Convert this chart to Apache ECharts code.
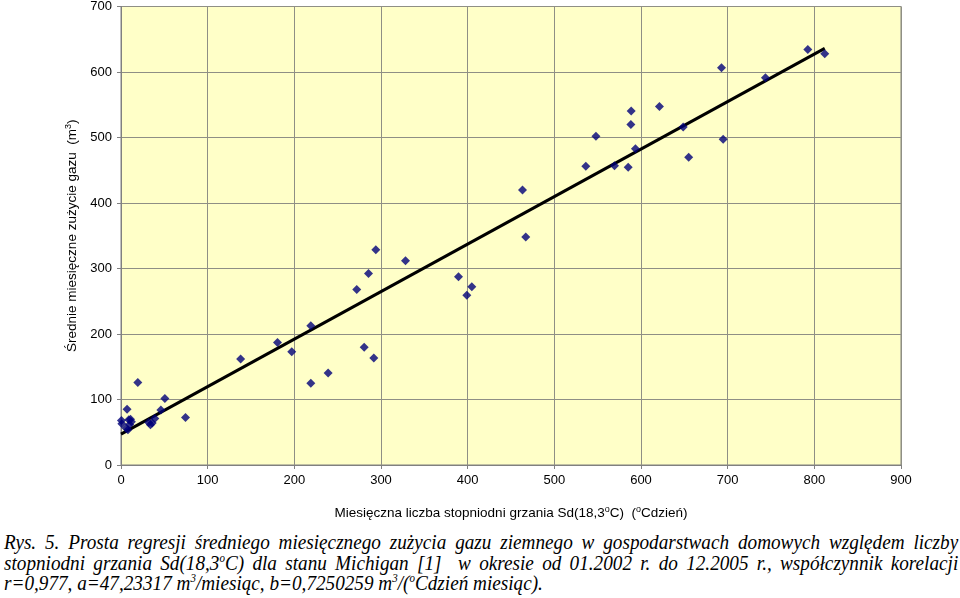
<!DOCTYPE html>
<html><head><meta charset="utf-8">
<script src="https://cdn.jsdelivr.net/npm/echarts@6/dist/echarts.min.js"></script>
<style>
html,body{margin:0;padding:0;background:#fff;overflow:hidden;}
#c{position:absolute;left:0;top:0;width:960px;height:525px;}
#cap{position:absolute;left:4px;top:532px;width:1044px;transform:scaleX(0.914);transform-origin:0 0;font-family:"Liberation Serif","Times New Roman",serif;font-style:italic;font-size:21px;line-height:20.5px;color:#000;}
#cap div{white-space:nowrap;}
#cap .j{text-align:justify;text-align-last:justify;white-space:normal;}
sup{font-size:12px;line-height:0;vertical-align:8px;}
</style></head><body>
<div id="c"></div>
<div id="cap">
<div class="j">Rys. 5. Prosta regresji średniego miesięcznego zużycia gazu ziemnego w gospodarstwach domowych względem liczby</div>
<div class="j">stopniodni grzania Sd(18,3<sup>o</sup>C) dla stanu Michigan [1]&nbsp; w okresie od 01.2002 r. do 12.2005 r., współczynnik korelacji</div>
<div>r=0,977, a=47,23317 m<sup>3</sup>/miesiąc, b=0,7250259 m<sup>3</sup>/(<sup>o</sup>Cdzień miesiąc).</div>
</div>
<script>
const degreeDays = [0.5,1,7,6,8,9,11,10,12,19.4,32,34,36,39,46,50.6,74.4,138,180.6,197,219,219,239,272,285.6,294,280.6,291.7,328.3,389.4,404.8,399,463.3,467,536.3,548,569.4,585.2,588.3,588.7,593.6,621.3,648.7,655,692.9,694.8,743.6,792.5,812];
const gasUse = [68,63,85,56,54,69,70,62,66,126,65,61.6,64,71,84,101.5,72.7,162,187,173,212.6,124.7,140.4,268,292.4,328.8,179.8,163.2,312,287.4,272.2,259,420,348,456,502,457,454.5,519.7,540.4,483,547.4,516,469.7,606.5,497.4,591.4,634.4,627.8];
const lineX = [0, 812];
const lineY = [47.2, 636];
const xTicks = [0,100,200,300,400,500,600,700,800,900];
const yTicks = [0,100,200,300,400,500,600,700];

const chart = echarts.init(document.getElementById('c'), null, {renderer:'canvas'});
const font = '"Liberation Sans", Arial, sans-serif';
const rich = {t:{fontFamily:font, fontSize:13.5, color:'#000'}, s:{fontFamily:font, fontSize:9, color:'#000', verticalAlign:'top', padding:[0,0,7,0]}};
chart.setOption({
  animation:false,
  backgroundColor:'#ffffff',
  grid:{left:121, top:6, width:780, height:462, show:true, backgroundColor:'#FFFFC8', borderColor:'#808080', borderWidth:1},
  xAxis:{type:'value', min:xTicks[0], max:xTicks[xTicks.length-1], interval:100,
    axisLine:{show:true, onZero:false, lineStyle:{color:'#808080', width:1}},
    axisTick:{show:true, length:4, lineStyle:{color:'#808080'}},
    axisLabel:{color:'#000', fontFamily:font, fontSize:13, margin:9},
    splitLine:{show:true, lineStyle:{color:'#8f8f85', width:1}},
    name:'{t|Miesięczna liczba stopniodni grzania Sd(18,3}{s|o}{t|C)  (}{s|o}{t|Cdzień)}',
    nameLocation:'middle', nameGap:40,
    nameTextStyle:{rich:rich}
  },
  yAxis:{type:'value', min:yTicks[0], max:yTicks[yTicks.length-1], interval:100,
    axisLine:{show:true, onZero:false, lineStyle:{color:'#808080', width:1}},
    axisTick:{show:true, length:4, lineStyle:{color:'#808080'}},
    axisLabel:{color:'#000', fontFamily:font, fontSize:13, margin:9},
    splitLine:{show:true, lineStyle:{color:'#8f8f85', width:1}},
    name:'{t|Średnie miesięczne zużycie gazu  (m}{s|3}{t|)}',
    nameLocation:'middle', nameGap:31, nameRotate:90,
    nameTextStyle:{rich:rich}
  },
  series:[
    {type:'line', data:lineX.map((x,i)=>[x,lineY[i]]), symbol:'none', lineStyle:{color:'#000', width:3}, z:2},
    {type:'scatter', data:degreeDays.map((x,i)=>[x,gasUse[i]]), symbol:'diamond', symbolSize:9, itemStyle:{color:'#000078'}, z:3}
  ]
});
</script>
</body></html>
